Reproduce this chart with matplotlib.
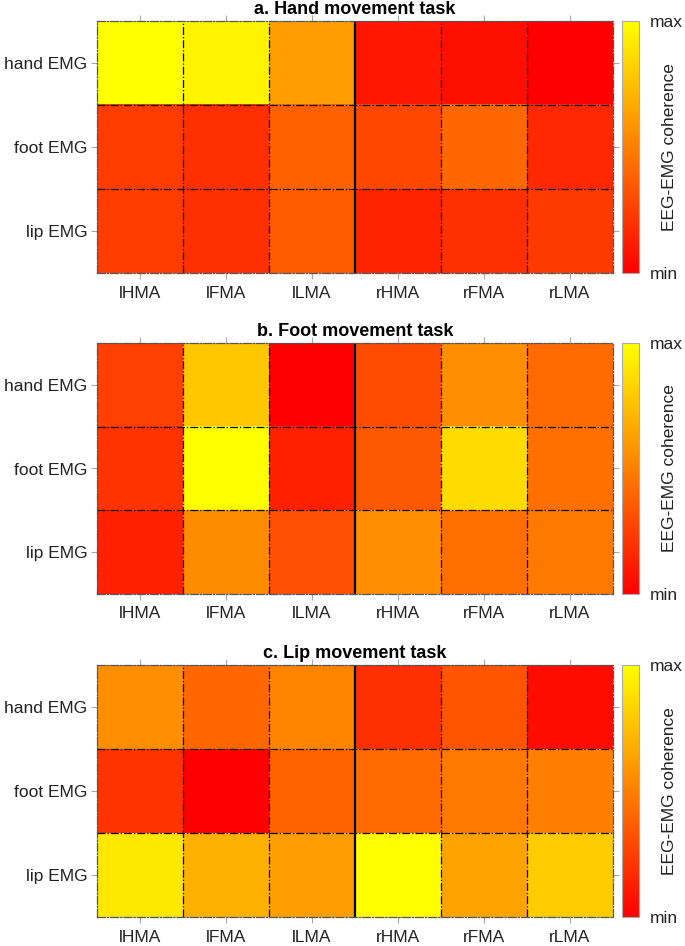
import matplotlib
matplotlib.use("Agg")
import matplotlib.pyplot as plt
import numpy as np

plt.rcParams['font.family'] = ['Liberation Sans', 'DejaVu Sans']

# channel names
areas = ["lHMA", "lFMA", "lLMA", "rHMA", "rFMA", "rLMA"]
emgs = ["hand EMG", "foot EMG", "lip EMG"]
titles = ["a. Hand movement task", "b. Foot movement task", "c. Lip movement task"]

# normalised coherence (0 = min, 1 = max)
hand_task = [[1.00, 0.95, 0.62, 0.09, 0.06, 0.00],
             [0.24, 0.19, 0.38, 0.28, 0.41, 0.16],
             [0.24, 0.19, 0.36, 0.14, 0.19, 0.23]]
foot_task = [[0.25, 0.78, 0.00, 0.30, 0.56, 0.42],
             [0.20, 1.00, 0.13, 0.35, 0.86, 0.44],
             [0.13, 0.55, 0.31, 0.56, 0.43, 0.48]]
lip_task = [[0.56, 0.41, 0.52, 0.19, 0.33, 0.05],
            [0.20, 0.00, 0.39, 0.42, 0.47, 0.50],
            [0.91, 0.69, 0.62, 1.00, 0.64, 0.80]]

W, H = 685, 946
fig = plt.figure(figsize=(W / 100, H / 100), dpi=100)

# panel top/bottom in pixels
panels = [(21, 273), (343, 594), (665, 917)]
x0, x1 = 97, 613
cx0, cx1 = 622, 639
fs = 12.5

for data, title, (top, bot) in zip([hand_task, foot_task, lip_task], titles, panels):
    ax = fig.add_axes([x0 / W, 1 - bot / H, (x1 - x0) / W, (bot - top) / H])
    im = ax.imshow(np.array(data), cmap="autumn", vmin=0, vmax=1,
                   aspect="auto", interpolation="nearest")

    # grid between cells
    for xv in [0.5, 1.5, 3.5, 4.5]:
        ax.axvline(xv, color="black", linestyle="-.", linewidth=0.9)
    ax.axvline(2.5, color="black", linestyle="-", linewidth=1.6)
    for yv in [0.5, 1.5]:
        ax.axhline(yv, color="black", linestyle="-.", linewidth=0.9)

    ax.set_xticks(range(len(areas)))
    ax.set_xticklabels(areas, fontsize=fs, color="#222222")
    ax.set_yticks(range(len(emgs)))
    ax.set_yticklabels(emgs, fontsize=fs, color="#222222")
    ax.tick_params(axis="x", top=True, length=4, color="#aaaaaa", pad=5)
    ax.tick_params(axis="y", right=True, length=4, color="#aaaaaa", pad=3)
    for s in ax.spines.values():
        s.set_color("#555555")
        s.set_linestyle("-.")
        s.set_linewidth(0.9)
    ax.set_title(title, fontsize=13, fontweight="bold", pad=5)

    # colour bar
    cax = fig.add_axes([cx0 / W, 1 - bot / H, (cx1 - cx0) / W, (bot - top) / H])
    cb = fig.colorbar(im, cax=cax)
    cb.set_ticks([0, 1])
    cb.set_ticklabels(["min", "max"])
    cb.ax.tick_params(length=0, labelsize=fs, pad=8, labelcolor="#222222")
    cb.outline.set_edgecolor("#aaaaaa")
    cb.outline.set_linewidth(0.8)
    fig.text(670 / W, 1 - (top + bot) / 2 / H, "EEG-EMG coherence",
             rotation=90, ha="center", va="center", fontsize=fs, color="#222222")

fig.savefig("out.png", dpi=100)
